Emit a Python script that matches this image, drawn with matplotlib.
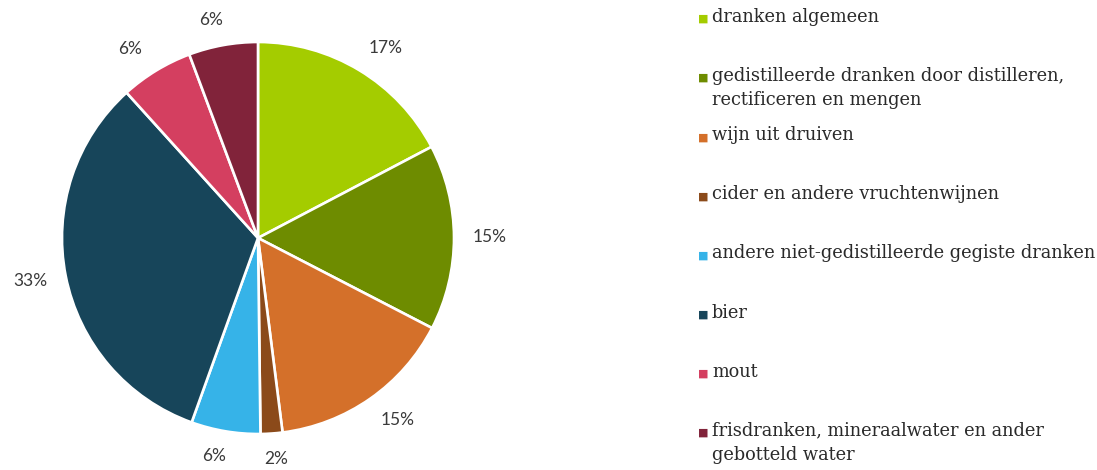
import numpy as np
import matplotlib.pyplot as plt

categories = ["dranken algemeen",
              "gedistilleerde dranken door distilleren,\nrectificeren en mengen",
              "wijn uit druiven",
              "cider en andere vruchtenwijnen",
              "andere niet-gedistilleerde gegiste dranken",
              "bier",
              "mout",
              "frisdranken, mineraalwater en ander\ngebotteld water"]
shares = [17.3, 15.3, 15.4, 1.8, 5.7, 32.8, 6.0, 5.7]
colors = ["#a4cc00", "#6e8c00", "#d4702a", "#8b4a1a",
          "#36b3e8", "#17455a", "#d43f60", "#81233a"]

fig = plt.figure(figsize=(10.97, 4.70), dpi=100)
R = 196
ax = fig.add_axes([(258 - R) / 1097, (470 - 238 - R) / 470, 2 * R / 1097, 2 * R / 470])

wedges, _ = ax.pie(
    shares, colors=colors, startangle=90, counterclock=False,
    wedgeprops=dict(edgecolor="white", linewidth=1.9))
ax.set_xlim(-1, 1)
ax.set_ylim(-1, 1)
ax.set_aspect("equal")

# percentage labels outside, pushed sideways like the original
total = sum(shares)
start = 0
for v in shares:
    mid = (start + v / 2) / total * 2 * np.pi
    start += v
    sx, cy = np.sin(mid), np.cos(mid)
    x = 1.10 * sx + (16 / R) * np.sign(sx) * min(1, 3 * abs(sx))
    y = 1.13 * cy
    ax.text(x, y, "%.0f%%" % round(v), ha="center", va="center",
            fontsize=12.5, color="#3a3a3a", family="Lato")

# legend drawn by hand: evenly spaced slots, text top-aligned
x_mark = 703 / 1097
x_text = 712 / 1097
for i, (lab, col) in enumerate(zip(categories, colors)):
    y = 1 - (19 + i * 59.1) / 470
    fig.text(x_mark, y, "\u25a0", color=col, fontsize=8, ha="center", va="center")
    fig.text(x_text, y + 11 / 470, lab, fontsize=12.8, color="#2a2a2a",
             family="DejaVu Serif", ha="left", va="top", linespacing=1.45)

fig.savefig("out.png", dpi=100)
